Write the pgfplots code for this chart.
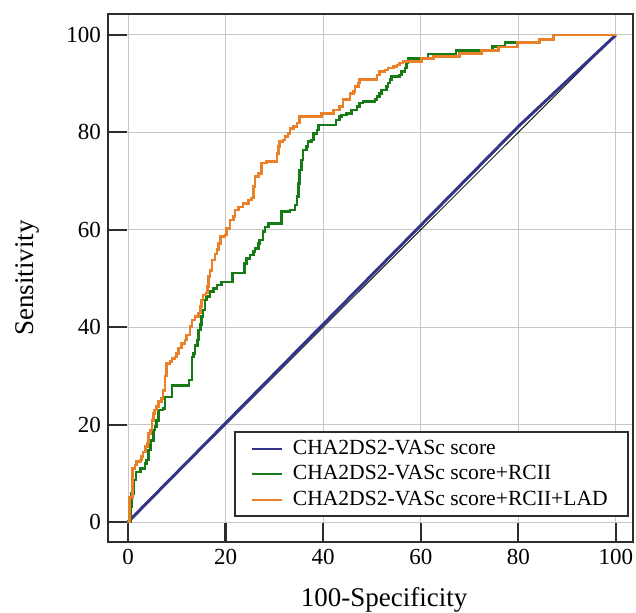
\documentclass[border=0pt]{standalone}
\usepackage{fontspec}
\setmainfont{Liberation Serif}
\usepackage{pgfplots}
\pgfplotsset{compat=1.18}

\definecolor{rocblue}{RGB}{52,52,138}
\definecolor{rocgreen}{RGB}{22,122,22}
\definecolor{rocorange}{RGB}{234,128,40}
\definecolor{framegray}{RGB}{45,45,45}

\begin{document}
\begin{tikzpicture}
\begin{axis}[
    at={(0,0)}, anchor=south west,
    scale only axis,
    width=262.5pt, height=264pt,
    xmin=-4.1, xmax=103.5,
    ymin=-4.1, ymax=104.3,
    xtick={0,20,...,100},
    ytick={0,20,...,100},
    tick align=inside,
    xtick pos=bottom, ytick pos=left,
    major tick length=9.5pt,
    axis line style={framegray, line width=1.1pt},
    every tick/.style={framegray, line width=1.1pt},
    grid=major,
    major grid style={black!22, line width=0.5pt},
    tick label style={font=\fontsize{11.5}{13}\selectfont},
    /pgf/number format/assume math mode=true,
    xlabel={100-Specificity},
    ylabel={Sensitivity},
    label style={font=\fontsize{13.5}{15}\selectfont},
    xlabel style={at={(axis description cs:0.526,-0.11)}, anchor=center},
    ylabel style={at={(axis description cs:-0.154,0.5)}, anchor=center},
    legend style={at={(0.992,0.047)}, anchor=south east,
        draw=framegray, line width=1pt, fill=white,
        inner xsep=8pt,
        font=\fontsize{10.8}{12.75}\selectfont,
        /tikz/every odd column/.append style={column sep=3pt}},
    legend cell align=left,
    legend image code/.code={\draw[mark repeat=2, mark phase=2, #1]
        plot coordinates {(0pt,0pt) (7.5pt,0pt) (15pt,0pt)};},
    legend image post style={line width=1pt},
]
% reference diagonal
\addplot[black, line width=0.4pt, forget plot] coordinates {(0,0) (100,100)};

\addplot[rocblue, line width=1.5pt] coordinates {(0,0) (80,81.2) (100,100)};
\addlegendentry{CHA2DS2-VASc score}

\addplot[rocgreen, line width=1.3pt, const plot] coordinates {
(0,0) (0.5,3.1) (0.75,5.9) (1.1,8.6) (1.6,10.3) (2.6,11.0) (3.5,12.0) (3.8,12.7)
(4.2,14.8) (4.6,16.8) (5.2,18.9) (5.5,19.6) (5.9,20.9) (6.2,23.0) (7.2,23.3)
(7.6,25.7) (9.0,28.0) (12.5,29.2) (13.1,33.9) (13.4,34.6) (13.7,36.3) (14.2,37.4)
(14.4,39.4) (14.8,40.5) (15.1,42.2) (15.4,43.5) (15.8,45.6) (16.1,46.3) (16.8,47.3)
(17.5,48.0) (18.2,48.7) (19.2,49.3) (21.4,51.1) (23.9,53.1) (24.3,54.1) (25.0,54.8)
(25.7,55.5) (26.0,56.2) (26.7,57.2) (27.0,57.9) (27.7,59.6) (28.1,60.6) (28.8,61.3)
(31.5,63.7) (33.2,64.1) (34.2,65.1) (34.6,66.8) (34.9,69.5) (35.2,72.3) (35.6,74.3)
(35.9,76.4) (36.6,77.1) (36.9,78.1) (37.6,78.4) (38.0,79.8) (38.7,80.5) (39.0,81.5)
(42.6,82.5) (43.4,83.2) (43.8,83.6) (44.8,83.9) (45.8,84.6) (46.9,85.3) (47.5,86.0)
(48.2,86.3) (50.6,86.7) (51.0,87.4) (51.6,88.0) (52.0,88.7) (53.0,89.4) (53.3,90.1)
(53.7,90.8) (54.0,91.5) (55.7,91.8) (56.1,92.5) (56.8,93.2) (57.1,94.2) (57.4,95.2)
(61.5,96.1) (67.2,96.8) (74.7,97.6) (77.3,98.5) (84.3,99.1) (87.2,100) (100,100)
};
\addlegendentry{CHA2DS2-VASc score+RCII}

\addplot[rocorange, line width=1.3pt, const plot] coordinates {
(0,0) (0.3,5) (0.9,11) (1.4,11.7) (1.8,12.4) (2.5,12.7) (2.8,13.4) (3.1,14.4)
(3.6,15.5) (4.0,16.2) (4.2,18.2) (4.6,18.9) (4.9,20.9) (5.2,22.3) (5.4,23.0)
(5.9,23.7) (6.2,24.7) (6.9,25.4) (7.2,27.0) (7.6,30.0) (7.9,32.6) (8.6,32.9)
(9.0,33.6) (9.6,33.9) (10.0,34.6) (10.3,35.7) (11.0,36.7) (11.7,37.4) (12.0,38.4)
(12.7,40.1) (13.1,41.5) (13.7,42.2) (14.4,42.9) (14.8,44.2) (15.1,45.6) (15.4,46.6)
(16.0,47.0) (16.3,48.3) (16.5,50.4) (16.8,51.7) (17.2,53.8) (17.8,55.0) (18.2,55.9)
(18.5,57.2) (19.0,58.6) (19.9,58.9) (20.2,60.3) (20.9,62.0) (21.6,62.7) (21.9,64.1)
(22.6,64.7) (23.6,65.4) (24.7,66.1) (25.3,66.5) (25.7,68.9) (26.0,70.9) (26.7,71.6)
(27.4,73.7) (28.4,74.0) (30.5,75.7) (30.8,77.1) (31.1,78.1) (31.8,78.4) (32.2,79.1)
(32.8,79.8) (33.2,80.8) (33.9,81.2) (34.6,81.9) (35.2,83.2) (39.7,83.9) (42.1,84.6)
(43.4,85.3) (44.1,86.7) (45.5,88.0) (46.2,88.4) (46.5,89.4) (47.2,90.1) (47.5,90.8)
(51.0,91.8) (51.6,92.5) (52.7,92.8) (53.3,93.2) (54.4,93.5) (55.1,93.8) (55.7,94.2)
(56.4,94.5) (60.2,95.2) (62.6,95.6) (68.0,96.2) (72.5,96.8) (75.9,97.5) (79.8,98.4)
(84.3,99.1) (87.2,100) (100,100)
};
\addlegendentry{CHA2DS2-VASc score+RCII+LAD}
\end{axis}
\pgfresetboundingbox
\path (-54pt,-35pt) rectangle (264pt,271pt);
\end{tikzpicture}
\end{document}
